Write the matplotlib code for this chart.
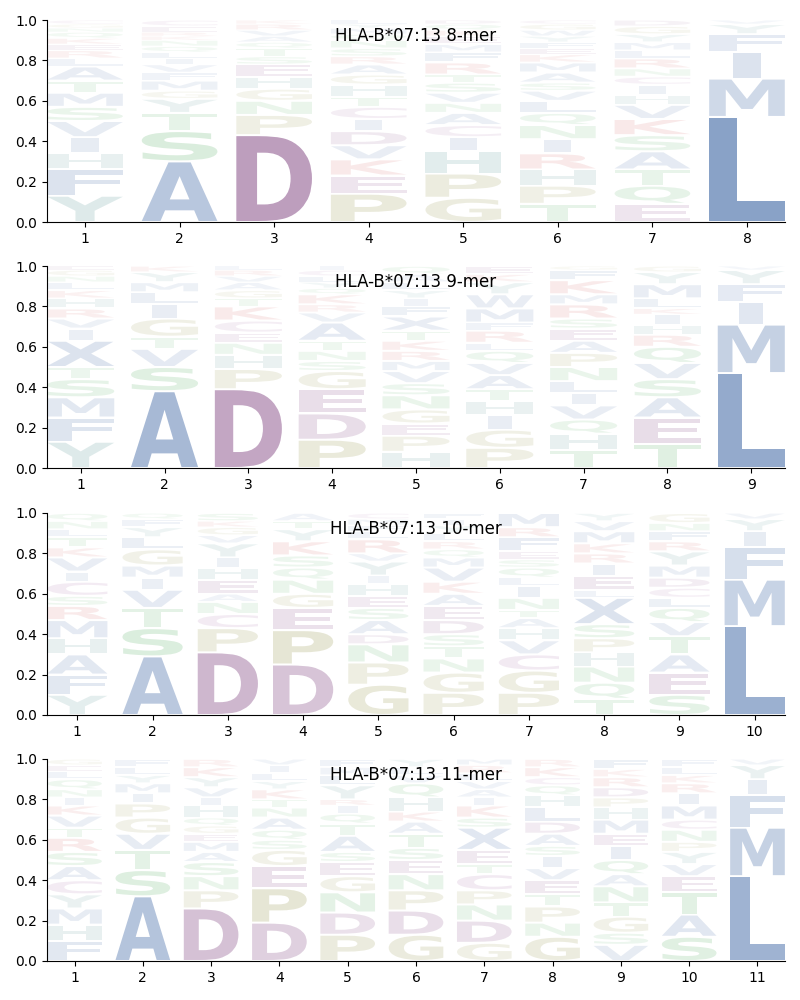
import numpy as np
import matplotlib
matplotlib.use("Agg")
import matplotlib.pyplot as plt
from matplotlib.textpath import TextPath
from matplotlib.patches import PathPatch
from matplotlib.font_manager import FontProperties
from matplotlib.transforms import Affine2D

allele = "HLA-B*07:13"

# letters per position, listed bottom -> top, with their stacked heights
letters_8 = ["YFHIVSMTALREKQNGC", "ASTYGMFVILQNKREC", "DPNGHESTQAVRK",
             "PEKVDICTHGARSNQMYL", "GPHICANVSTRFMEKQD", "TPHRINQLVSAMKEFYWGC",
             "EQTASKVHICNRLMYGD", "LMIFYV"]
heights_8 = [
    [.13, .13, .08, .08, .08, .07, .07, .06, .07, .04, .04, .03, .03, .03, .02, .02, .02],
    [.30, .15, .09, .07, .04, .05, .04, .04, .03, .03, .03, .03, .02, .02, .03, .03],
    [.43, .10, .07, .06, .06, .06, .04, .04, .03, .03, .03, .03, .02],
    [.14, .09, .08, .07, .07, .06, .06, .05, .06, .05, .05, .04, .04, .04, .03, .03, .02, .02],
    [.12, .12, .11, .07, .06, .06, .05, .05, .05, .04, .06, .05, .04, .04, .03, .03, .02],
    [.09, .09, .08, .08, .07, .07, .06, .06, .05, .04, .05, .05, .04, .03, .03, .03, .03, .03, .02],
    [.09, .09, .08, .09, .08, .08, .07, .05, .05, .04, .04, .05, .04, .04, .04, .04, .03],
    [.52, .19, .13, .09, .05, .02],
]

letters_9 = ["YFMSTXIVRHKLNGE", "ASVTGILMYK", "DPHNECKTGAVRL", "PDEGSNTAVRKQYLCI",
             "HPEGNSVMRKTXFIYLAQ", "PGIHTAVQLRFMWYKE", "THQVILNPAESRMKFG",
             "TEASVQRHIKLMYG", "LMIFYV"]
heights_9 = [
    [.13, .12, .10, .09, .06, .13, .06, .05, .05, .05, .04, .04, .03, .03, .02],
    [.38, .12, .09, .06, .09, .07, .06, .05, .05, .03],
    [.39, .10, .07, .06, .05, .06, .07, .04, .04, .04, .03, .03, .02],
    [.14, .13, .12, .09, .05, .05, .05, .09, .05, .04, .05, .03, .03, .03, .03, .02],
    [.08, .08, .06, .07, .07, .06, .06, .05, .05, .05, .05, .07, .05, .04, .04, .04, .04, .04],
    [.10, .09, .07, .07, .06, .07, .06, .06, .04, .06, .04, .07, .07, .06, .04, .04],
    [.09, .08, .07, .07, .06, .06, .07, .07, .06, .06, .05, .07, .05, .07, .05, .02],
    [.12, .13, .10, .09, .08, .08, .06, .05, .05, .03, .05, .07, .06, .03],
    [.47, .24, .11, .09, .07, .02],
]

letters_10 = ["YFAHMRSCIVKTLNQ", "ASTVIMGLYFQ", "DPCNAEHIYVGKS", "DPEGNQSKYTA",
              "GPNDASEHIYVRLFMC", "PGNTSDEAKVMQRLYIF", "PGCVHATNILQSEFRM",
              "TQNHPSXLEIRKMVY", "SEATVQLCDMYRFNG", "LMFIYV"]
heights_10 = [
    [.10, .10, .10, .08, .09, .07, .05, .07, .05, .07, .05, .05, .04, .04, .04],
    [.29, .14, .10, .09, .06, .06, .08, .06, .05, .04, .03],
    [.31, .12, .07, .06, .04, .07, .06, .05, .07, .04, .04, .03, .04],
    [.25, .17, .11, .07, .07, .06, .06, .07, .06, .04, .04],
    [.15, .11, .09, .05, .07, .06, .06, .06, .04, .07, .04, .07, .04, .03, .03, .03],
    [.11, .10, .07, .06, .06, .07, .07, .06, .06, .07, .05, .04, .04, .04, .04, .03, .03],
    [.11, .11, .08, .07, .06, .05, .04, .06, .06, .04, .05, .04, .04, .07, .05, .07],
    [.08, .08, .08, .07, .07, .07, .13, .04, .07, .06, .05, .05, .06, .05, .04],
    [.10, .11, .09, .09, .07, .07, .05, .05, .05, .06, .07, .05, .05, .04, .05],
    [.44, .23, .16, .08, .06, .03],
]

letters_11 = ["FHMYCASRTVKINQLEG", "ASTVGPIMYLF", "DPNSAMEGQHIVYKR", "DPEGSQANTKYLIV",
              "PDNGESATQIRYLMF", "GDPNESTAKHQVLY", "GDNPCTEXSKIAVLRM",
              "GNPTEVISADLHQCKR", "VSGTNAQIEMHPDRKF", "SATEVYPNCMIRKLF", "LMFIYV"]
heights_11 = [
    [.10, .08, .08, .07, .07, .07, .07, .07, .05, .06, .05, .04, .04, .05, .04, .03, .03],
    [.32, .13, .10, .08, .08, .07, .05, .05, .04, .04, .04],
    [.26, .09, .07, .07, .05, .05, .04, .04, .04, .06, .04, .05, .05, .05, .04],
    [.19, .17, .11, .08, .05, .05, .06, .05, .04, .05, .04, .04, .04, .03],
    [.13, .11, .10, .08, .07, .05, .08, .06, .05, .04, .03, .07, .05, .04, .04],
    [.13, .12, .10, .08, .07, .06, .07, .06, .05, .07, .07, .04, .04, .04],
    [.09, .11, .08, .07, .08, .05, .07, .11, .05, .06, .04, .04, .04, .04, .04, .03],
    [.12, .07, .08, .06, .07, .06, .06, .05, .06, .06, .07, .06, .05, .04, .05, .04],
    [.08, .06, .08, .07, .08, .06, .07, .07, .06, .07, .06, .05, .05, .05, .04, .05],
    [.12, .11, .11, .08, .06, .06, .05, .06, .05, .07, .06, .05, .04, .04, .04],
    [.42, .24, .16, .08, .07, .03],
]

panels = [(8, letters_8, heights_8), (9, letters_9, heights_9),
          (10, letters_10, heights_10), (11, letters_11, heights_11)]

# residue colours (drawn with alpha ~ letter height)
colors = {}
for c in "AVLIMFWX":
    colors[c] = "#1f4e96"
for c in "YH":
    colors[c] = "#2a7a78"
for c in "DE":
    colors[c] = "#6a226a"
colors["C"] = "#8a3a8a"
for c in "PG":
    colors[c] = "#828228"
for c in "STNQ":
    colors[c] = "#2a9a3a"
for c in "KR":
    colors[c] = "#c83232"

fp = FontProperties(family="DejaVu Sans", weight="bold")
glyphs = {}


def draw_letter(ax, ch, x, y0, h, width=0.8):
    if ch not in glyphs:
        glyphs[ch] = TextPath((0, 0), ch, size=1, prop=fp)
    tp = glyphs[ch]
    bb = tp.get_extents()
    if ch == "I":
        width = width * 0.36   # I stays a narrow bar
    pad = min(0.005, h * 0.1)
    hh = h - 2 * pad
    t = (Affine2D().translate(-bb.x0, -bb.y0)
         .scale(width / bb.width, hh / bb.height)
         .translate(x - width / 2, y0 + pad))
    alpha = min(1.0, 0.95 * h + 0.03)
    ax.add_patch(PathPatch(t.transform_path(tp), facecolor=colors[ch],
                           edgecolor="none", alpha=alpha))


fig = plt.figure(figsize=(8, 10), dpi=100)
bottoms = [0.778, 0.532, 0.285, 0.039]
for (n, lets, hts), b in zip(panels, bottoms):
    ax = fig.add_axes([0.059, b, 0.922, 0.202])
    for i, (s, hs) in enumerate(zip(lets, hts)):
        y = 0.0
        for ch, h in zip(s, hs):
            draw_letter(ax, ch, i + 1, y, h)
            y += h
    ax.set_xlim(0.6, n + 0.4)
    ax.set_ylim(0, 1)
    ax.set_xticks(np.arange(1, n + 1))
    ax.set_yticks(np.arange(0, 1.01, 0.2))
    ax.spines["top"].set_visible(False)
    ax.spines["right"].set_visible(False)
    ax.text(0.5, 0.92, f"{allele} {n}-mer", transform=ax.transAxes,
            ha="center", va="center", fontsize=12)

fig.savefig("out.png", dpi=100)
